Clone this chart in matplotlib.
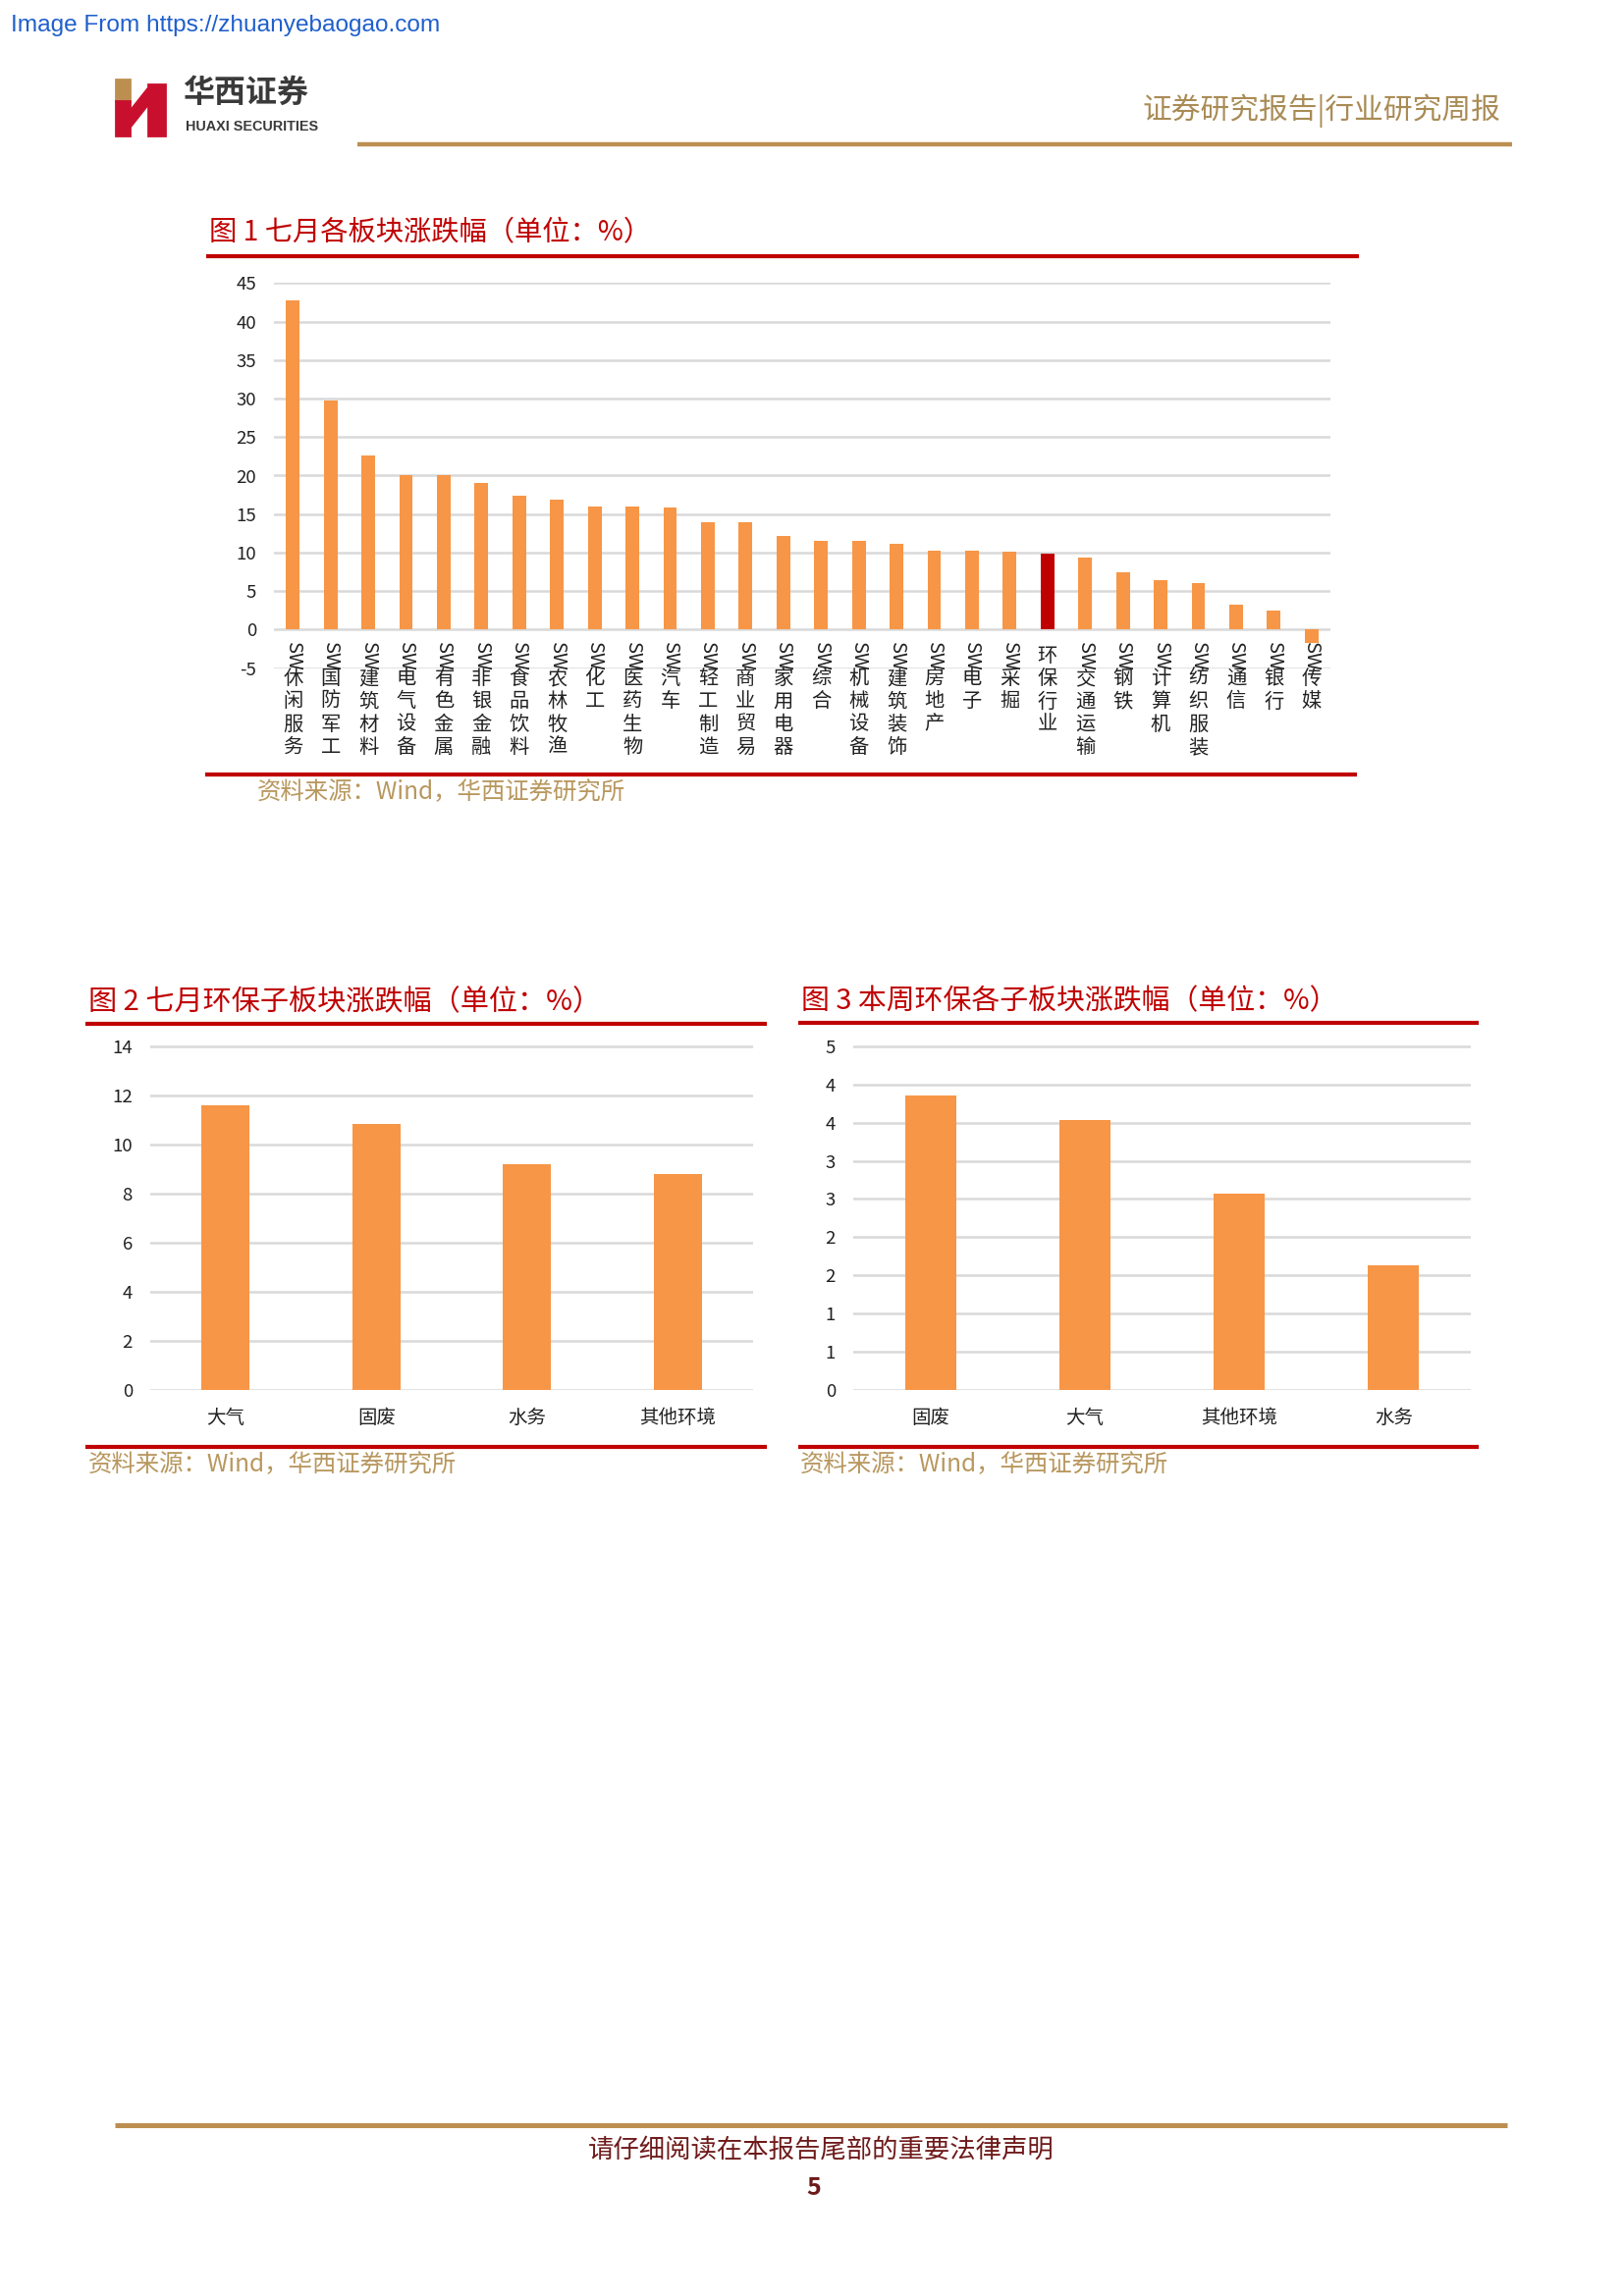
import matplotlib as mpl
mpl.use("Agg")
import matplotlib.pyplot as plt
from matplotlib.lines import Line2D
from matplotlib.patches import Polygon, Rectangle

plt.rcParams["font.family"] = ["Noto Sans CJK SC", "DejaVu Sans"]

# page geometry (pixels of the 1654x2339 output)
W, H = 1654, 2339
DPI = 200

# Fig 1: July change by sector (%)
sectors1 = ["SW休闲服务", "SW国防军工", "SW建筑材料", "SW电气设备", "SW有色金属",
            "SW非银金融", "SW食品饮料", "SW农林牧渔", "SW化工", "SW医药生物",
            "SW汽车", "SW轻工制造", "SW商业贸易", "SW家用电器", "SW综合",
            "SW机械设备", "SW建筑装饰", "SW房地产", "SW电子", "SW采掘",
            "环保行业", "SW交通运输", "SW钢铁", "SW计算机", "SW纺织服装",
            "SW通信", "SW银行", "SW传媒"]
change1 = [42.8, 29.8, 22.6, 20.1, 20.0, 19.0, 17.4, 16.9, 16.0, 16.0,
           15.9, 14.0, 13.9, 12.2, 11.5, 11.5, 11.1, 10.2, 10.2, 10.1,
           9.9, 9.4, 7.4, 6.4, 6.0, 3.2, 2.5, -1.8]
y1_ticks = [-5, 0, 5, 10, 15, 20, 25, 30, 35, 40, 45]
highlight1 = "环保行业"

# Fig 2: July change of environmental sub-sectors (%)
sub2 = ["大气", "固废", "水务", "其他环境"]
change2 = [11.6, 10.85, 9.2, 8.8]
y2_ticks = [0, 2, 4, 6, 8, 10, 12, 14]

# Fig 3: this week's change of environmental sub-sectors (%)
sub3 = ["固废", "大气", "其他环境", "水务"]
change3 = [3.85, 3.53, 2.57, 1.63]
y3_ticks = [0, 0.5, 1, 1.5, 2, 2.5, 3, 3.5, 4, 4.5]
y3_ticklabels = ["0", "1", "1", "2", "2", "3", "3", "4", "4", "5"]

ORANGE = "#F79646"
DARKRED = "#C00000"
GRID = "#D9D9D9"
GOLD = "#BC8F50"
TAN = "#B8975E"


def rect(x0, y0, x1, y1):
    return [x0 / W, 1 - y1 / H, (x1 - x0) / W, (y1 - y0) / H]


def fx(x):
    return x / W


def fy(y):
    return 1 - y / H


def hline(fig, x0, x1, y, color, lw):
    fig.add_artist(Line2D([fx(x0), fx(x1)], [fy(y), fy(y)], color=color, lw=lw,
                          solid_capstyle="butt", transform=fig.transFigure))


def style_axes(ax):
    for s in ax.spines.values():
        s.set_visible(False)
    ax.yaxis.grid(True, color=GRID, lw=0.9)
    ax.set_axisbelow(True)
    ax.set_xticks([])
    ax.tick_params(axis="y", length=0, pad=6.5, labelsize=6.7, labelcolor="#222222")


fig = plt.figure(figsize=(W / DPI, H / DPI), dpi=DPI)

# ---- header ----
fig.text(fx(11), fy(26), "Image From https://zhuanyebaogao.com", color="#1F5FCC",
         fontsize=8.8, family="Liberation Sans", va="center", ha="left")
fig.add_artist(Rectangle((fx(118), fy(103)), (132 - 118) / W, 22 / H, color=GOLD,
                         transform=fig.transFigure))
fig.add_artist(Rectangle((fx(118), fy(138)), (132 - 118) / W, 35 / H, color="#C8102E",
                         transform=fig.transFigure))
fig.add_artist(Rectangle((fx(151), fy(138)), (168 - 151) / W, 52 / H, color="#C8102E",
                         transform=fig.transFigure))
fig.add_artist(Polygon([(fx(132), fy(114)), (fx(151), fy(90)), (fx(151), fy(106)),
                        (fx(132), fy(130))], closed=True, color="#C8102E",
                       transform=fig.transFigure))
fig.text(fx(186), fy(95), "华西证券", fontsize=11.5, fontweight="bold", color="#3A3A3A",
         va="center", ha="left")
fig.text(fx(189), fy(129), "HUAXI SECURITIES", fontsize=5.2, color="#3A3A3A",
         va="center", ha="left", family="Liberation Sans", fontweight="bold")
fig.text(fx(1528), fy(113), "证券研究报告|行业研究周报", fontsize=10.7, color="#A98B55",
         va="center", ha="right")
hline(fig, 364, 1540, 147, GOLD, 1.6)

# ---- figure 1 ----
fig.text(fx(213), fy(237), "图 1 七月各板块涨跌幅（单位：%）", fontsize=10.2,
         color=DARKRED, va="center", ha="left")
hline(fig, 210, 1384, 261, DARKRED, 1.5)
ax1 = fig.add_axes(rect(279, 288, 1355, 681))
colors1 = [DARKRED if s == highlight1 else ORANGE for s in sectors1]
ax1.bar(range(len(sectors1)), change1, width=0.36, color=colors1, zorder=3)
ax1.set_xlim(-0.5, len(sectors1) - 0.5)
ax1.set_ylim(-5.06, 45.06)
ax1.set_yticks(y1_ticks)
ax1.set_yticklabels([str(t) for t in y1_ticks])
style_axes(ax1)
step_px = 23.3
first_px = 27
for i, name in enumerate(sectors1):
    parts = ["SW"] + list(name[2:]) if name.startswith("SW") else list(name)
    for k, ch in enumerate(parts):
        off = (first_px + k * step_px) * 72 / DPI
        ax1.annotate(ch, xy=(i, 0), xytext=(0, -off), textcoords="offset points",
                     ha="center", va="center", fontsize=7.3, color="#222222",
                     rotation=270 if ch == "SW" else 0, annotation_clip=False)
hline(fig, 209, 1382, 789, DARKRED, 1.5)
fig.text(fx(262), fy(807), "资料来源：Wind，华西证券研究所", fontsize=8.8, color=TAN,
         va="center", ha="left")

# ---- figure 2 ----
fig.text(fx(90), fy(1021), "图 2 七月环保子板块涨跌幅（单位：%）", fontsize=10.5,
         color=DARKRED, va="center", ha="left")
hline(fig, 87, 781, 1043, DARKRED, 1.5)
ax2 = fig.add_axes(rect(153, 1065, 767, 1416))
ax2.bar(range(len(sub2)), change2, width=0.32, color=ORANGE, zorder=3)
ax2.set_xlim(-0.5, len(sub2) - 0.5)
ax2.set_ylim(0, 14.03)
ax2.set_yticks(y2_ticks)
ax2.set_yticklabels([str(t) for t in y2_ticks])
style_axes(ax2)
for i, name in enumerate(sub2):
    ax2.annotate(name, xy=(i, 0), xytext=(0, -28 * 72 / DPI), textcoords="offset points",
                 ha="center", va="center", fontsize=7, color="#222222",
                 annotation_clip=False)
hline(fig, 87, 781, 1474, DARKRED, 1.5)
fig.text(fx(90), fy(1492), "资料来源：Wind，华西证券研究所", fontsize=8.8, color=TAN,
         va="center", ha="left")

# ---- figure 3 ----
fig.text(fx(816), fy(1020), "图 3 本周环保各子板块涨跌幅（单位：%）", fontsize=10.4,
         color=DARKRED, va="center", ha="left")
hline(fig, 813, 1506, 1042, DARKRED, 1.5)
ax3 = fig.add_axes(rect(869, 1065, 1498, 1416))
ax3.bar(range(len(sub3)), change3, width=0.33, color=ORANGE, zorder=3)
ax3.set_xlim(-0.5, len(sub3) - 0.5)
ax3.set_ylim(0, 4.51)
ax3.set_yticks(y3_ticks)
ax3.set_yticklabels(y3_ticklabels)
style_axes(ax3)
for i, name in enumerate(sub3):
    ax3.annotate(name, xy=(i, 0), xytext=(0, -28 * 72 / DPI), textcoords="offset points",
                 ha="center", va="center", fontsize=7, color="#222222",
                 annotation_clip=False)
hline(fig, 813, 1506, 1474, DARKRED, 1.5)
fig.text(fx(815), fy(1492), "资料来源：Wind，华西证券研究所", fontsize=8.8, color=TAN,
         va="center", ha="left")

# ---- footer ----
hline(fig, 117, 1535, 2165, GOLD, 1.8)
fig.text(fx(836), fy(2190), "请仔细阅读在本报告尾部的重要法律声明", fontsize=9.5,
         color="#6E1A1A", va="center", ha="center")
fig.text(fx(829), fy(2229), "5", fontsize=9, fontweight="bold", color="#6E1A1A",
         va="center", ha="center")

fig.savefig("out.png", dpi=DPI)
